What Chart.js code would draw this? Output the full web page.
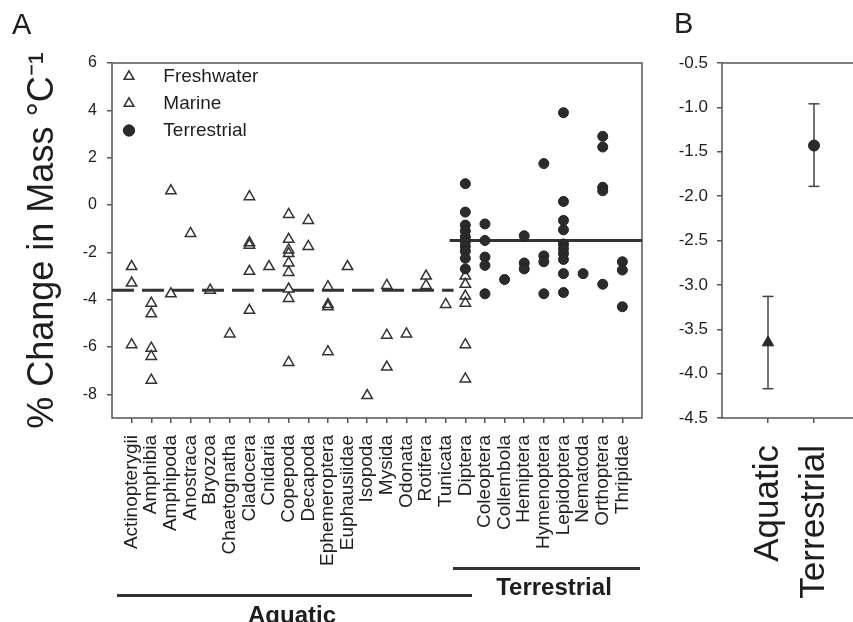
<!DOCTYPE html>
<html>
<head>
<meta charset="utf-8">
<script src="https://cdn.jsdelivr.net/npm/chart.js@4.4.1/dist/chart.umd.min.js"></script>
<style>
  body { margin: 0; width: 853px; height: 622px; overflow: hidden; background: #fff; position: relative;
         font-family: "Liberation Sans", Arial, sans-serif; color: #1e1e1e; }
  canvas { position: absolute; top: 0; }
  #grA { left: 0; }
  #grB { left: 650px; }
  .letra { position: absolute; font-size: 29px; line-height: 29px; }
  .grupo { position: absolute; font-weight: bold; font-size: 24px; line-height: 24px; transform: translateX(-50%); }
  .raya { position: absolute; height: 3px; background: #333; }
</style>
</head>
<body>
<canvas id="grA" width="660" height="622"></canvas>
<canvas id="grB" width="230" height="622"></canvas>
<div class="letra" style="left:12px;top:10px">A</div>
<div class="letra" style="left:674px;top:9px">B</div>
<div class="raya" style="left:117px;top:594px;width:355px"></div>
<div class="grupo" style="left:292px;top:603px">Aquatic</div>
<div class="raya" style="left:453px;top:567px;width:187px"></div>
<div class="grupo" style="left:554px;top:575px">Terrestrial</div>

<script>
const categorias = ['Actinopterygii', 'Amphibia', 'Amphipoda', 'Anostraca', 'Bryozoa', 'Chaetognatha',
    'Cladocera', 'Cnidaria', 'Copepoda', 'Decapoda', 'Ephemeroptera', 'Euphausiidae', 'Isopoda',
    'Mysida', 'Odonata', 'Rotifera', 'Tunicata', 'Diptera', 'Coleoptera', 'Collembola', 'Hemiptera',
    'Hymenoptera', 'Lepidoptera', 'Nematoda', 'Orthoptera', 'Thripidae'];

// un valor por estudio, una lista por categoria (mismo orden que categorias)
const aguaDulce = [
    [-2.6, -3.3, -5.9], [-4.15, -4.6, -6.05, -6.4, -7.4], [0.6], [-1.2], [-3.6], [],
    [0.35, -1.6, -1.7, -2.8, -4.45], [], [-0.4, -1.45, -1.9, -2.05, -2.45], [-1.75],
    [-3.45, -4.2, -4.3, -6.2], [], [], [], [-5.45], [-3.0, -3.4], [],
    [-3.0, -3.35, -3.85, -4.15, -5.9, -7.35], [], [], [], [], [], [], [], []
];
const marinos = [
    [], [], [-3.75], [], [], [-5.45], [], [-2.6], [-2.85, -3.55, -3.95, -6.65], [-0.65],
    [], [-2.6], [-8.05], [-3.4, -5.5, -6.85], [], [], [-4.2], [], [], [], [], [], [], [], [], []
];
const terrestres = [
    [], [], [], [], [], [], [], [], [], [], [], [], [], [], [], [], [],
    [0.9, -0.3, -0.85, -1.1, -1.35, -1.55, -1.75, -1.95, -2.25, -2.7],
    [-0.8, -1.5, -2.2, -2.55, -3.75], [-3.15], [-1.3, -2.45, -2.7], [1.75, -2.15, -2.4, -3.75],
    [3.9, 0.15, -0.65, -1.05, -1.65, -1.85, -2.05, -2.3, -2.9, -3.7], [-2.9],
    [2.9, 2.45, 0.75, 0.6, -3.35], [-2.4, -2.75, -4.3]
];

const mediaAcuatica = -3.6;
const mediaTerrestre = -1.5;
const tramoAcuatico = [0, 17.4];
const tramoTerrestre = [17.2, 27];
const ticksA = [-8, -6, -4, -2, 0, 2, 4, 6];

const gruposB = ['Aquatic', 'Terrestrial'];
const mediaB = [-3.65, -1.43];
const inferiorB = [-4.17, -1.89];
const superiorB = [-3.13, -0.96];
const ticksB = [-4.5, -4.0, -3.5, -3.0, -2.5, -2.0, -1.5, -1.0, -0.5];

Chart.defaults.font.family = '"Liberation Sans", Arial, sans-serif';
Chart.defaults.color = '#1e1e1e';

const puntos = (listas) => listas.flatMap((lista, i) => lista.map(v => ({ x: i + 1, y: v })));

const marco = {
    id: 'marco',
    beforeDatasetsDraw(chart) {
        const { ctx, chartArea: a } = chart;
        ctx.save();
        ctx.strokeStyle = '#555';
        ctx.lineWidth = 1.5;
        ctx.strokeRect(a.left, a.top, a.right - a.left, a.bottom - a.top);
        ctx.restore();
    }
};

// la leyenda 'chartArea' vuelve a top 0, la bajo dentro del marco
const leyendaDentro = {
    id: 'leyendaDentro',
    afterLayout(chart) {
        if (chart.legend) chart.legend.top = chart.chartArea.top - 4;
    }
};

// alto fijo del eje x y sin relleno extra por las etiquetas giradas
const ejeX = (alto) => (scale) => {
    scale.height = alto;
    scale.paddingLeft = 0;
    scale.paddingRight = 0;
};

const rejilla = { drawOnChartArea: false, drawTicks: true, tickLength: 5, color: '#555', lineWidth: 1.5 };

new Chart(document.getElementById('grA'), {
    type: 'scatter',
    data: {
        datasets: [{
            label: 'Terrestrial',
            data: puntos(terrestres),
            pointStyle: 'circle',
            pointRadius: 5,
            backgroundColor: '#2b2b2b',
            borderColor: '#222',
            borderWidth: 1,
            order: 1
        }, {
            label: 'Freshwater',
            data: puntos(aguaDulce),
            pointStyle: 'triangle',
            pointRadius: 6,
            backgroundColor: 'rgba(255,255,255,0)',
            borderColor: '#333',
            borderWidth: 1.5,
            order: 2
        }, {
            label: 'Marine',
            data: puntos(marinos),
            pointStyle: 'triangle',
            pointRadius: 6,
            backgroundColor: 'rgba(255,255,255,0)',
            borderColor: '#333',
            borderWidth: 1.5,
            order: 3
        }, {
            label: 'media acuatica',
            data: tramoAcuatico.map(x => ({ x: x, y: mediaAcuatica })),
            showLine: true,
            borderColor: '#333',
            borderWidth: 3,
            borderDash: [22, 8],
            pointRadius: 0,
            order: 4
        }, {
            label: 'media terrestre',
            data: tramoTerrestre.map(x => ({ x: x, y: mediaTerrestre })),
            showLine: true,
            borderColor: '#333',
            borderWidth: 3,
            pointRadius: 0,
            order: 5
        }]
    },
    options: {
        responsive: false,
        animation: false,
        devicePixelRatio: 1,
        events: [],
        layout: { padding: { top: 63, right: 18, left: 0, bottom: 0 } },
        plugins: {
            tooltip: { enabled: false },
            legend: {
                position: 'chartArea',
                align: 'start',
                labels: {
                    usePointStyle: true,
                    boxWidth: 18,
                    boxHeight: 8,
                    padding: 8,
                    color: '#1e1e1e',
                    font: { size: 19 },
                    generateLabels: (chart) => {
                        const base = Chart.defaults.plugins.legend.labels.generateLabels(chart);
                        return ['Freshwater', 'Marine', 'Terrestrial'].map(n => {
                            const item = base.find(b => b.text === n);
                            return { ...item, text: '   ' + n };
                        });
                    }
                }
            }
        },
        scales: {
            x: {
                type: 'linear',
                min: 0,
                max: 27,
                afterBuildTicks: (scale) => { scale.ticks = categorias.map((c, i) => ({ value: i + 1 })); },
                afterFit: ejeX(204),
                border: { display: false },
                grid: rejilla,
                ticks: {
                    autoSkip: false,
                    minRotation: 90,
                    maxRotation: 90,
                    padding: 12,
                    color: '#1e1e1e',
                    font: { size: 19 },
                    callback: (v) => categorias[v - 1]
                }
            },
            y: {
                min: -9,
                max: 6,
                afterBuildTicks: (scale) => { scale.ticks = ticksA.map(v => ({ value: v })); },
                afterFit: (scale) => { scale.width = 112; },
                border: { display: false },
                grid: rejilla,
                title: {
                    display: true,
                    text: '% Change in Mass \u00B0C\u207B\u00B9',
                    color: '#1e1e1e',
                    font: { size: 36 },
                    padding: { top: 21, bottom: 0 }
                },
                ticks: { padding: 10, color: '#1e1e1e', font: { size: 16 } }
            }
        }
    },
    plugins: [marco, leyendaDentro]
});

new Chart(document.getElementById('grB'), {
    type: 'scatter',
    data: {
        datasets: [{
            data: [{ x: 1, y: mediaB[0] }],
            pointStyle: 'triangle',
            pointRadius: 6.5,
            backgroundColor: '#2b2b2b',
            borderColor: '#222',
            borderWidth: 1
        }, {
            data: [{ x: 2, y: mediaB[1] }],
            pointStyle: 'circle',
            pointRadius: 5.5,
            backgroundColor: '#2b2b2b',
            borderColor: '#222',
            borderWidth: 1
        }, {
            data: [{ x: 1, y: inferiorB[0] }, { x: 1, y: superiorB[0] }],
            showLine: true,
            borderColor: '#444',
            borderWidth: 1.5,
            pointStyle: 'line',
            pointRadius: 5.5,
            pointBorderColor: '#444',
            pointBorderWidth: 1.5
        }, {
            data: [{ x: 2, y: inferiorB[1] }, { x: 2, y: superiorB[1] }],
            showLine: true,
            borderColor: '#444',
            borderWidth: 1.5,
            pointStyle: 'line',
            pointRadius: 5.5,
            pointBorderColor: '#444',
            pointBorderWidth: 1.5
        }]
    },
    options: {
        responsive: false,
        animation: false,
        devicePixelRatio: 1,
        events: [],
        layout: { padding: { top: 63, right: 20, left: 0, bottom: 0 } },
        plugins: { legend: { display: false }, tooltip: { enabled: false } },
        scales: {
            x: {
                type: 'linear',
                min: 0,
                max: 3,
                afterBuildTicks: (scale) => { scale.ticks = gruposB.map((g, i) => ({ value: i + 1 })); },
                afterFit: ejeX(204),
                border: { display: false },
                grid: rejilla,
                ticks: {
                    autoSkip: false,
                    minRotation: 90,
                    maxRotation: 90,
                    padding: 22,
                    color: '#1e1e1e',
                    font: { size: 35 },
                    callback: (v) => gruposB[v - 1]
                }
            },
            y: {
                min: -4.5,
                max: -0.5,
                afterBuildTicks: (scale) => { scale.ticks = ticksB.map(v => ({ value: v })); },
                afterFit: (scale) => { scale.width = 72; },
                border: { display: false },
                grid: rejilla,
                ticks: { padding: 9, color: '#1e1e1e', font: { size: 17 }, callback: (v) => v.toFixed(1) }
            }
        }
    },
    plugins: [marco]
});
</script>
</body>
</html>
